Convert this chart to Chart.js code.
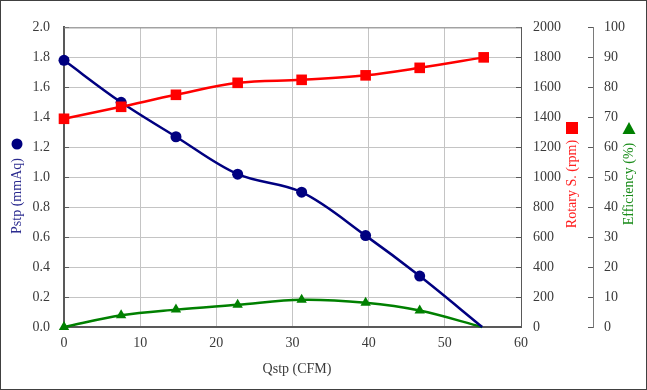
<!DOCTYPE html>
<html>
<head>
<meta charset="utf-8">
<script src="https://cdn.jsdelivr.net/npm/chart.js@4"></script>
<style>
  html, body { margin: 0; padding: 0; background: #fff; }
  #wrap { width: 647px; height: 390px; position: relative; }
</style>
</head>
<body>
<div id="wrap"><canvas id="graphique" width="647" height="390"></canvas></div>
<script>
// values
const flow = [0, 7.5, 14.7, 22.8, 31.2, 39.6, 46.7, 54.9];
const pressure = [1.78, 1.50, 1.27, 1.02, 0.90, 0.61, 0.34, 0];
const speedFlow = [0, 7.5, 14.7, 22.8, 31.2, 39.6, 46.7, 55.1];
const speed = [1390, 1470, 1550, 1630, 1650, 1680, 1730, 1800];
const efficiency = [0, 3.9, 5.8, 7.4, 9.1, 8.1, 5.5, 0];

const xTicks = [0, 10, 20, 30, 40, 50, 60];
const pTicks = [0, 0.2, 0.4, 0.6, 0.8, 1.0, 1.2, 1.4, 1.6, 1.8, 2.0];
const rpmTicks = [0, 200, 400, 600, 800, 1000, 1200, 1400, 1600, 1800, 2000];
const effTicks = [0, 10, 20, 30, 40, 50, 60, 70, 80, 90, 100];

const serif = "'Liberation Serif', 'Times New Roman', serif";
const tickFont = { family: serif, size: 14 };
const tickColor = '#3a3a3a';

function pts(xs, ys) {
    return xs.map((x, i) => ({ x: x, y: ys[i] }));
}
function fixTicks(list) {
    return function(scale) {
        scale.ticks = list.map(v => ({ value: v }));
    };
}

// titles, legend markers, frame
const decor = {
    id: 'decor',
    afterDraw(chart) {
        const c = chart.ctx;
        const a = chart.chartArea;
        c.save();
        // top border of the plot
        c.strokeStyle = '#8c8c8c';
        c.lineWidth = 1;
        c.beginPath();
        c.moveTo(a.left, a.top + 0.5);
        c.lineTo(a.right, a.top + 0.5);
        c.stroke();
        // outer frame
        c.strokeStyle = '#404040';
        c.strokeRect(0.5, 0.5, chart.width - 1, chart.height - 1);

        c.font = "14px " + serif;
        c.textAlign = 'center';
        c.textBaseline = 'middle';
        c.fillStyle = tickColor;
        c.fillText('Qstp (CFM)', 297, 369);

        function vtext(t, x, y, col) {
            c.save();
            c.translate(x, y);
            c.rotate(-Math.PI / 2);
            c.fillStyle = col;
            c.fillText(t, 0, 0);
            c.restore();
        }
        vtext('Pstp (mmAq)', 17, 196, '#2b2b8f');
        vtext('Rotary S. (rpm)', 572, 184, '#ff2020');
        vtext('Efficiency (%)', 629, 184, '#1a8c1a');

        c.fillStyle = '#000080';
        c.beginPath();
        c.arc(17, 144, 5.5, 0, Math.PI * 2);
        c.fill();
        c.fillStyle = '#ff0000';
        c.fillRect(566, 122, 12, 12);
        c.fillStyle = '#008000';
        c.beginPath();
        c.moveTo(629, 122);
        c.lineTo(635.5, 134);
        c.lineTo(622.5, 134);
        c.closePath();
        c.fill();
        c.restore();
    }
};

new Chart(document.getElementById('graphique'), {
    type: 'line',
    data: {
        datasets: [
            {
                label: 'Rotary S.',
                data: pts(speedFlow, speed),
                yAxisID: 'y1',
                borderColor: '#ff0000',
                backgroundColor: '#ff0000',
                borderWidth: 2.5,
                pointStyle: 'rect',
                pointRadius: 7.5,
                pointBorderWidth: 0,
                tension: 0.35,
                clip: false
            },
            {
                label: 'Pstp',
                data: pts(flow, pressure),
                yAxisID: 'y',
                borderColor: '#000080',
                backgroundColor: '#000080',
                borderWidth: 2.5,
                pointStyle: 'circle',
                pointRadius: pressure.map((v, i) => i === pressure.length - 1 ? 0 : 5.5),
                pointBorderWidth: 0,
                tension: 0.35,
                clip: false
            },
            {
                label: 'Efficiency',
                data: pts(flow, efficiency),
                yAxisID: 'y2',
                borderColor: '#008000',
                backgroundColor: '#008000',
                borderWidth: 2.5,
                pointStyle: 'triangle',
                pointRadius: efficiency.map((v, i) => i === efficiency.length - 1 ? 0 : 6),
                pointBorderWidth: 0,
                tension: 0.35,
                clip: false
            }
        ]
    },
    options: {
        responsive: false,
        animation: false,
        layout: { padding: { top: 19, left: 0, right: 0, bottom: 0 } },
        plugins: { legend: { display: false }, tooltip: { enabled: false } },
        scales: {
            x: {
                type: 'linear',
                min: 0, max: 60,
                afterBuildTicks: fixTicks(xTicks),
                afterFit(s) { s.height = 63; },
                grid: { color: '#c4c4c4', drawTicks: false },
                border: { color: '#595959', width: 2 },
                ticks: { color: tickColor, font: tickFont, padding: 8, maxRotation: 0 }
            },
            y: {
                position: 'left',
                min: 0, max: 2,
                afterBuildTicks: fixTicks(pTicks),
                afterFit(s) { s.width = 64; },
                grid: { color: '#c4c4c4', tickColor: '#595959', tickLength: -5 },
                border: { color: '#595959', width: 2 },
                ticks: { color: tickColor, font: tickFont, padding: 19, callback: v => v.toFixed(1) }
            },
            y1: {
                position: 'right',
                min: 0, max: 2000,
                afterBuildTicks: fixTicks(rpmTicks),
                afterFit(s) { s.width = 72; },
                grid: { drawOnChartArea: false, tickColor: '#595959', tickLength: -5 },
                border: { color: '#595959', width: 1 },
                ticks: { color: tickColor, font: tickFont, padding: 17, callback: v => String(v) }
            },
            y2: {
                position: 'right',
                min: 0, max: 100,
                afterBuildTicks: fixTicks(effTicks),
                afterFit(s) { s.width = 54; },
                grid: { drawOnChartArea: false, tickColor: '#595959', tickLength: -5 },
                border: { color: '#7a7a7a', width: 1 },
                ticks: { color: tickColor, font: tickFont, padding: 16, callback: v => String(v) }
            }
        }
    },
    plugins: [decor]
});
</script>
</body>
</html>
